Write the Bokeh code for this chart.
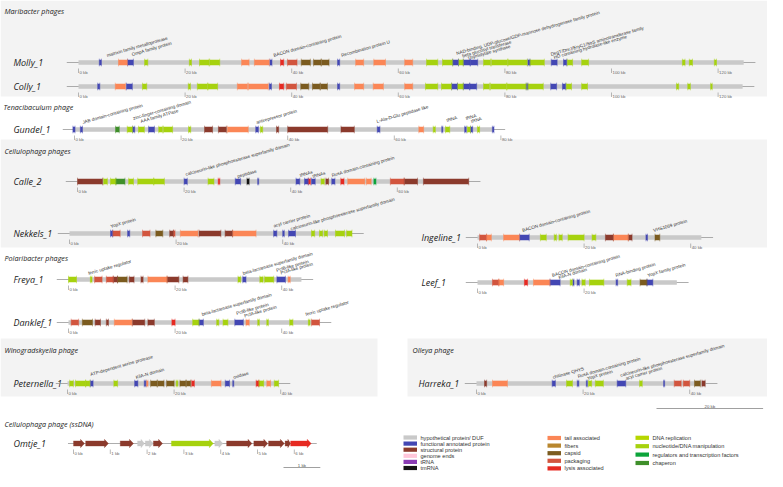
from bokeh.plotting import figure
from bokeh.models import Range1d
from bokeh.core.properties import value
from bokeh.embed import file_html
from bokeh.resources import INLINE

# ------------------------------------------------------------------ data
CAT_KEYS = ["hyp", "fun", "str", "end", "trna", "tmrna",
            "tail", "fib", "cap", "pack", "lys",
            "rep", "nuc", "reg", "chap"]
CAT_NAMES = ["hypothetical protein/ DUF", "functional annotated protein", "structural protein",
             "genome ends", "tRNA", "tmRNA",
             "tail associated", "fibers", "capsid", "packaging", "lysis associated",
             "DNA replication", "nucleotide/DNA manipulation",
             "regulators and transcription factors", "chaperon"]
CAT_COLORS = ["#c9c9c9", "#4347b3", "#8b3a2c", "#ffc6da", "#8a3cb4", "#141414",
              "#fb8656", "#b8862e", "#7b5b1f", "#d2553e", "#e62a22",
              "#b6d600", "#a6d20e", "#0ca43a", "#3f8f2a"]

SECTIONS = ["Maribacter phages", "Tenacibaculum phage", "Cellulophaga phages",
            "Polaribacter phages", "Winogradskyella phage", "Olleya phage",
            "Cellulophaga phage (ssDNA)"]

PHAGES = ["Molly_1", "Colly_1", "Gundel_1", "Calle_2", "Nekkels_1", "Ingeline_1",
          "Freya_1", "Leef_1", "Danklef_1", "Peternella_1", "Harreka_1", "Omtje_1"]

GENOME_KB = {"Molly_1": 124.8, "Colly_1": 124.6, "Gundel_1": 78.6, "Calle_2": 73.4,
             "Nekkels_1": 53.0, "Ingeline_1": 42.0, "Freya_1": 43.7, "Leef_1": 37.4,
             "Danklef_1": 47.1, "Peternella_1": 39.6, "Harreka_1": 43.0, "Omtje_1": 6.46}

TICKS_KB = {"Molly_1": [0, 20, 40, 60, 80, 100, 120], "Colly_1": [0, 20, 40, 60, 80, 100, 120],
            "Gundel_1": [0, 20, 40, 60, 80], "Calle_2": [0, 20, 40, 60],
            "Nekkels_1": [0, 20, 40], "Ingeline_1": [0, 20, 40], "Freya_1": [0, 20, 40],
            "Leef_1": [0, 20], "Danklef_1": [0, 20, 40], "Peternella_1": [0, 20, 40],
            "Harreka_1": [0, 20, 40], "Omtje_1": [0, 1, 2, 3, 4, 5, 6]}

MOLLY_GENES = [(3.9, 4.3, "fun"), (7.5, 9.2, "tail"), (9.2, 10.3, "fun"), (12.4, 13.0, "nuc"),
               (20.8, 21.2, "nuc"), (22.7, 24.5, "nuc"), (24.6, 26.5, "nuc"), (30.6, 32.0, "tail"),
               (33.0, 35.8, "tail"), (35.9, 36.3, "fun"), (37.9, 38.5, "lys"), (39.2, 41.0, "pack"),
               (41.8, 43.5, "cap"), (44.1, 45.5, "cap"), (45.6, 47.0, "cap"), (48.6, 49.0, "fun"),
               (52.0, 53.5, "tail"), (55.4, 57.6, "tail"), (61.2, 62.7, "tail"), (65.3, 67.4, "nuc"),
               (68.3, 70.2, "nuc"), (70.2, 71.3, "fun"), (71.3, 72.2, "nuc"), (72.2, 73.5, "fun"),
               (73.5, 74.9, "fun"), (76.0, 77.3, "nuc"), (77.5, 80.5, "nuc"), (80.6, 84.2, "nuc"),
               (84.3, 84.7, "fun"), (84.7, 87.4, "nuc"), (88.7, 89.8, "fun"), (91.0, 91.6, "fun"),
               (91.7, 92.7, "nuc"), (94.4, 95.7, "nuc"), (113.3, 113.8, "nuc"), (114.6, 115.2, "nuc"),
               (119.3, 119.7, "nuc")]
COLLY_GENES = [(3.6, 4.0, "fun"), (6.9, 8.8, "tail"), (9.0, 10.1, "fun"), (12.0, 12.8, "nuc"),
               (20.6, 21.0, "nuc"), (22.3, 24.2, "nuc"), (24.3, 26.1, "nuc"), (29.8, 31.7, "tail"),
               (31.9, 35.6, "tail"), (35.8, 36.2, "fun"), (37.7, 38.5, "lys"), (39.0, 40.9, "pack"),
               (41.7, 43.2, "cap"), (43.9, 45.3, "cap"), (45.4, 46.7, "cap"), (48.6, 49.0, "fun"),
               (51.8, 53.5, "tail"), (55.3, 57.2, "tail"), (61.2, 62.7, "tail"), (65.1, 67.4, "nuc"),
               (68.1, 70.0, "nuc"), (70.0, 71.1, "fun"), (71.1, 72.2, "nuc"), (72.2, 73.4, "fun"),
               (73.4, 74.7, "fun"), (76.0, 77.1, "nuc"), (77.3, 80.3, "nuc"), (80.4, 84.0, "nuc"),
               (84.0, 84.3, "fun"), (84.3, 87.2, "nuc"), (88.6, 89.7, "fun"), (90.8, 91.4, "fun"),
               (91.5, 92.5, "nuc"), (94.4, 95.5, "nuc"), (112.2, 112.6, "nuc"), (114.3, 114.8, "nuc"),
               (118.6, 118.9, "nuc")]
GUNDEL_GENES = [(-0.3, 0.1, "fun"), (1.1, 1.5, "fun"), (7.7, 8.4, "chap"), (9.9, 10.9, "nuc"),
                (10.9, 11.3, "fun"), (12.0, 13.1, "nuc"), (13.9, 15.0, "fun"), (15.8, 16.5, "nuc"),
                (16.7, 18.4, "nuc"), (21.4, 21.8, "nuc"), (24.4, 25.9, "str"), (27.0, 28.5, "str"),
                (28.7, 32.6, "tail"), (34.0, 34.5, "fun"), (34.9, 35.3, "nuc"), (37.9, 38.3, "str"),
                (40.0, 47.5, "str"), (50.0, 52.5, "str"), (56.8, 57.3, "fun"), (64.6, 65.5, "tail"),
                (67.3, 67.7, "nuc"), (68.9, 69.1, "fun"), (69.6, 70.4, "nuc"), (73.2, 73.5, "fun"),
                (73.7, 74.3, "nuc"), (74.3, 74.7, "fun"), (75.6, 76.0, "nuc"), (78.4, 78.7, "fun")]
CALLE_GENES = [(0.0, 4.7, "str"), (4.9, 5.6, "nuc"), (6.2, 7.2, "nuc"), (7.2, 8.9, "chap"),
               (9.6, 10.5, "nuc"), (11.3, 14.3, "nuc"), (14.3, 16.3, "nuc"), (20.0, 20.6, "fun"),
               (24.5, 25.6, "nuc"), (26.4, 26.7, "lys"), (29.6, 30.6, "fun"), (31.8, 32.2, "tmrna"),
               (33.8, 34.0, "fun"), (41.0, 41.7, "fun"), (42.6, 43.3, "fun"), (43.3, 43.7, "lys"),
               (43.9, 44.6, "fun"), (45.7, 46.3, "nuc"), (46.6, 47.1, "str"), (47.7, 48.3, "fun"),
               (49.4, 50.0, "lys"), (50.7, 53.9, "tail"), (54.2, 55.1, "tail"), (55.6, 56.0, "reg"),
               (58.7, 61.3, "pack"), (61.3, 63.8, "str"), (64.9, 73.4, "str")]
NEKKELS_GENES = [(7.7, 8.1, "fun"), (8.1, 9.5, "pack"), (10.9, 11.3, "fun"), (13.7, 15.1, "pack"),
                 (16.2, 17.5, "cap"), (18.8, 19.5, "str"), (19.5, 19.8, "pack"), (20.8, 24.1, "tail"),
                 (24.3, 28.4, "str"), (29.2, 30.6, "str"), (30.6, 35.0, "tail"), (38.3, 38.9, "fun"),
                 (40.0, 40.3, "fun"), (41.1, 42.4, "fun"), (45.4, 46.0, "nuc"), (46.9, 47.5, "nuc"),
                 (47.8, 48.4, "nuc"), (49.9, 51.6, "nuc"), (52.0, 53.0, "nuc")]
INGELINE_GENES = [(0.4, 1.7, "pack"), (1.7, 2.6, "tail"), (4.9, 7.9, "tail"), (7.9, 9.7, "fun"),
                  (11.8, 12.9, "nuc"), (14.4, 14.8, "nuc"), (15.3, 15.9, "nuc"), (17.0, 20.0, "nuc"),
                  (21.5, 22.2, "nuc"), (24.0, 25.5, "str"), (25.5, 28.3, "tail"), (28.3, 29.0, "str"),
                  (31.6, 31.9, "fun"), (33.3, 34.2, "cap")]
FREYA_GENES = [(0.0, 1.5, "nuc"), (4.1, 4.4, "nuc"), (4.9, 6.3, "pack"), (7.1, 8.4, "pack"),
               (8.4, 9.2, "str"), (9.2, 11.0, "cap"), (11.4, 12.3, "str"), (13.6, 14.0, "str"),
               (14.9, 18.5, "tail"), (18.5, 20.7, "str"), (21.5, 22.4, "str"), (31.8, 32.3, "nuc"),
               (32.7, 33.3, "fun"), (35.9, 36.5, "nuc"), (36.8, 38.5, "nuc"), (39.1, 40.7, "fun"),
               (41.2, 41.6, "tail")]
LEEF_GENES = [(2.8, 4.0, "pack"), (4.0, 4.9, "tail"), (8.8, 9.4, "lys"), (10.5, 13.6, "tail"),
              (13.6, 15.5, "fun"), (17.4, 17.8, "nuc"), (17.9, 18.1, "fun"), (18.7, 19.1, "fun"),
              (19.6, 20.2, "nuc"), (21.0, 23.7, "nuc"), (26.0, 26.3, "fun"), (28.1, 28.8, "nuc"),
              (30.5, 31.8, "cap"), (31.8, 32.9, "fun")]
DANKLEF_GENES = [(0.5, 1.9, "pack"), (2.6, 4.5, "cap"), (5.0, 6.0, "str"), (7.1, 7.5, "str"),
                 (8.6, 11.9, "tail"), (12.0, 14.3, "str"), (14.9, 16.1, "str"), (19.4, 20.0, "lys"),
                 (23.3, 24.5, "nuc"), (24.5, 25.3, "fun"), (27.8, 28.2, "nuc"), (29.0, 29.9, "nuc"),
                 (31.2, 32.8, "fun"), (33.3, 33.9, "tail"), (35.5, 35.8, "nuc"), (37.2, 37.5, "nuc"),
                 (41.5, 42.1, "nuc"), (45.0, 45.3, "nuc"), (45.6, 47.1, "pack")]
PETERNELLA_GENES = [(0.4, 1.1, "nuc"), (1.5, 3.4, "nuc"), (3.4, 4.2, "nuc"), (4.3, 4.8, "fun"),
                    (8.7, 9.4, "nuc"), (12.6, 13.2, "fun"), (14.4, 14.7, "fun"), (14.8, 15.1, "tail"),
                    (15.6, 16.8, "cap"), (16.9, 18.1, "cap"), (18.6, 20.0, "cap"), (20.4, 20.7, "nuc"),
                    (21.1, 22.2, "cap"), (22.3, 23.1, "cap"), (23.3, 23.8, "lys"), (27.0, 28.8, "tail"),
                    (29.6, 30.4, "fun"), (31.0, 31.2, "fun"), (35.4, 35.9, "lys"), (35.9, 36.8, "nuc"),
                    (37.4, 38.1, "tail"), (38.8, 39.6, "nuc")]
HARREKA_GENES = [(1.5, 1.9, "str"), (3.0, 5.8, "tail"), (14.2, 14.8, "fun"), (16.9, 18.0, "nuc"),
                 (18.9, 19.2, "fun"), (20.6, 20.8, "fun"), (21.0, 21.6, "nuc"), (22.3, 23.8, "nuc"),
                 (26.4, 28.0, "fun"), (30.6, 31.1, "nuc"), (35.1, 35.3, "fun"), (37.1, 38.4, "pack"),
                 (38.8, 40.0, "pack"), (40.9, 42.0, "cap"), (42.3, 42.9, "str")]
OMTJE_GENES = [(0.0, 0.3, "str"), (0.33, 0.95, "str"), (1.27, 1.63, "str"), (1.74, 1.93, "hyp"),
               (1.95, 2.17, "hyp"), (2.17, 2.42, "str"), (2.66, 3.8, "nuc"), (3.84, 4.06, "hyp"),
               (4.16, 4.85, "str"), (4.9, 5.28, "str"), (5.3, 5.73, "str"), (5.75, 5.9, "str"),
               (5.9, 6.46, "lys")]

GENES = {"Molly_1": MOLLY_GENES, "Colly_1": COLLY_GENES, "Gundel_1": GUNDEL_GENES,
         "Calle_2": CALLE_GENES, "Nekkels_1": NEKKELS_GENES, "Ingeline_1": INGELINE_GENES,
         "Freya_1": FREYA_GENES, "Leef_1": LEEF_GENES, "Danklef_1": DANKLEF_GENES,
         "Peternella_1": PETERNELLA_GENES, "Harreka_1": HARREKA_GENES, "Omtje_1": OMTJE_GENES}

# annotation labels: (kb where label starts, text)
LABELS = {
    "Molly_1": [(5.3, "matrixin family metalloprotease"), (10.0, "OmpA family protein"),
                (36.6, "BACON domain-containing protein"), (49.3, "Recombination protein U"),
                (70.9, "NAD-binding, UDP-glucose/GDP-mannose dehydrogenase family protein"),
                (72.0, "beta glucosyl transferase"), (73.0, "Thymidylate synthase"),
                (88.6, "DegT/DnrJ/EryC1/StrS aminotransferase family"),
                (89.2, "HD containing hydrolase-like enzyme")],
    "Gundel_1": [(1.5, "JAB domain-containing protein"), (11.0, "zinc-finger-containing domain"),
                 (12.4, "AAA family ATPase"), (34.1, "antirepressor protein"),
                 (56.7, "L-Ala-D-Glu peptidase like"), (69.8, "tRNA"), (73.4, "tRNA"), (74.4, "tRNA")],
    "Calle_2": [(20.3, "calcineurin-like phosphoesterase superfamily domain"), (30.0, "peptidase"),
                (41.7, "tRNAs"), (44.1, "tRNAs"), (47.7, "RusA domain-containing protein")],
    "Nekkels_1": [(7.7, "YopX protein"), (38.3, "acyl carrier protein"),
                  (41.5, "calcineurin-like phosphoesterase superfamily domain")],
    "Ingeline_1": [(8.4, "BACON domain-containing protein"), (33.0, "VHS1069 protein")],
    "Freya_1": [(3.7, "ferric uptake regulator"), (32.7, "beta-lactamase superfamily domain"),
                (39.0, "PcfB-like protein"), (39.8, "PcfA-like protein")],
    "Leef_1": [(14.0, "BACON domain-containing protein"), (15.2, "KilA-N domain"),
               (25.9, "RNA-binding protein"), (31.9, "YopX family protein")],
    "Danklef_1": [(25.0, "beta-lactamase superfamily domain"), (31.5, "PcfB-like protein"),
                  (33.0, "PcfA-like protein"), (44.5, "ferric uptake regulator")],
    "Peternella_1": [(4.3, "ATP-dependent serine protease"), (12.8, "KilA-N domain"), (31.1, "oxidase")],
    "Harreka_1": [(14.3, "chitinase QHYS"), (19.0, "RusA domain-containing protein"),
                  (20.8, "YopX protein"), (27.0, "calcineurin-like phosphoesterase superfamily domain"),
                  (28.0, "acyl carrier protein")],
}

SCALEBAR_KB = {"main": 20, "ssDNA": 1}

# ------------------------------------------------------------------ layout (reference-pixel space)
PX_KB = 5.33            # px per kb for dsDNA tracks
PX_KB_SS = 36.8         # px per kb for the ssDNA track
TRACK = {  # origin x of 0 kb, track centre y
    "Molly_1": (78, 62), "Colly_1": (78, 86), "Gundel_1": (74, 129), "Calle_2": (77, 181),
    "Nekkels_1": (69, 233), "Ingeline_1": (477, 237), "Freya_1": (68, 279), "Leef_1": (477, 282),
    "Danklef_1": (68, 322), "Peternella_1": (67, 383), "Harreka_1": (476, 383), "Omtje_1": (73, 443)}
NAME_X = {"Ingeline_1": 421, "Leef_1": 421, "Harreka_1": 418}
LABEL_DY = {  # baseline offsets above the track for each label (same order as LABELS)
    "Molly_1": [7, 8, 7, 7, 9, 6.5, 4, 8, 5],
    "Gundel_1": [7, 11, 8, 7, 8, 9, 11, 8],
    "Calle_2": [7, 5, 6, 5, 6],
    "Nekkels_1": [7, 7.5, 4.5],
    "Ingeline_1": [7, 7],
    "Freya_1": [6, 6, 9, 6.5],
    "Leef_1": [7, 5, 7, 7],
    "Danklef_1": [8, 9, 6.5, 8],
    "Peternella_1": [9, 6, 6],
    "Harreka_1": [6, 7, 5, 8, 5],
}
PANELS = [(0, 778, 0, 96), (0, 778, 139, 247), (0, 377, 338, 396), (407, 778, 338, 396)]
SECTION_POS = [(4, 10), (3, 106), (4, 150), (4, 257), (4, 349), (412, 349), (4, 423)]
LABEL_ANGLE = 16

W, H = 767, 471
p = figure(width=W, height=H, x_range=Range1d(0, W), y_range=Range1d(H, 0),
           output_backend="svg", toolbar_location=None, min_border=0)
p.axis.visible = False
p.grid.visible = False
p.outline_line_color = None
p.background_fill_color = "white"
p.border_fill_color = "white"

COLOR = dict(zip(CAT_KEYS, CAT_COLORS))
SANS = value("Liberation Sans")
ITAL = value("Open Sans")

# background panels
p.quad(left=[b[0] for b in PANELS], right=[b[1] for b in PANELS],
       top=[b[2] for b in PANELS], bottom=[b[3] for b in PANELS],
       fill_color="#f3f3f3", line_color=None)

# section titles
p.text(x=[s[0] for s in SECTION_POS], y=[s[1] for s in SECTION_POS], text=SECTIONS,
       text_font=ITAL, text_font_style="italic", text_font_size="7.2px", text_color="#222",
       text_baseline="middle")

for name in PHAGES:
    x0, y = TRACK[name]
    ss = name == "Omtje_1"
    s = PX_KB_SS if ss else PX_KB
    L = GENOME_KB[name]
    pad = 0.15 if ss else 2.2
    # name
    p.text(x=[NAME_X.get(name, 13)], y=[y], text=[name], text_font=ITAL, text_font_style="italic",
           text_font_size="9px", text_color="#222", text_baseline="middle")
    # baseline
    p.segment(x0=[x0 - pad * s], x1=[x0 + (L + pad) * s], y0=[y], y1=[y],
              line_color="#8a8a8a", line_width=0.7)
    # ticks
    tk = TICKS_KB[name]
    p.segment(x0=[x0 + t * s for t in tk], x1=[x0 + t * s for t in tk],
              y0=[y + 6] * len(tk), y1=[y + 10.5] * len(tk), line_color="#8a8a8a", line_width=0.6)
    p.text(x=[x0 + t * s + 1 for t in tk], y=[y + 10.4] * len(tk), text=[f"{t} kb" for t in tk],
           text_font=SANS, text_font_size="4.3px", text_color="#666", text_baseline="alphabetic")
    genes = GENES[name]
    if ss:
        xs, ys, cs = [], [], []
        for (a, b, c) in genes:
            xa, xb = x0 + a * s, x0 + b * s
            h = min(4.0, (xb - xa) * 0.5)
            xs.append([xa, xb - h, xb - h, xb, xb - h, xb - h, xa])
            ys.append([y - 2.6, y - 2.6, y - 4.2, y, y + 4.2, y + 2.6, y + 2.6])
            cs.append(COLOR[c])
        p.patches(xs=xs, ys=ys, fill_color=cs, line_color=cs, line_width=0.3)
    else:
        # hypothetical genes fill the genome
        p.quad(left=[x0], right=[x0 + L * s], top=[y - 2.2], bottom=[y + 2.2],
               fill_color=COLOR["hyp"], line_color=None)
        lefts = [x0 + a * s for a, b, c in genes]
        rights = [x0 + b * s for a, b, c in genes]
        cols = [COLOR[c] for a, b, c in genes]
        p.quad(left=lefts, right=rights, top=[y - 2.8] * len(genes), bottom=[y + 2.8] * len(genes),
               fill_color=cols, line_color=None)
        p.segment(x0=lefts + rights, x1=lefts + rights, y0=[y - 3.8] * (2 * len(genes)),
                  y1=[y + 3.8] * (2 * len(genes)), line_color=cols + cols, line_width=0.5)
    # annotation labels
    if name in LABELS:
        lab = LABELS[name]
        dys = LABEL_DY[name]
        p.text(x=[x0 + k * s for k, t in lab], y=[y - d for d in dys], text=[t for k, t in lab],
               angle=LABEL_ANGLE, angle_units="deg", text_font=SANS, text_font_size="4.6px",
               text_color="#333", text_baseline="alphabetic")

# scale bars
sb = [(656, 408, SCALEBAR_KB["main"] * PX_KB, f"{SCALEBAR_KB['main']} kb"),
      (283, 467, SCALEBAR_KB["ssDNA"] * PX_KB_SS, f"{SCALEBAR_KB['ssDNA']} kb")]
p.segment(x0=[b[0] for b in sb], x1=[b[0] + b[2] for b in sb], y0=[b[1] for b in sb],
          y1=[b[1] for b in sb], line_color="#777", line_width=0.7)
p.text(x=[b[0] + b[2] / 2 for b in sb], y=[b[1] - 2.5 for b in sb], text=[b[3] for b in sb],
       text_font=SANS, text_font_size="4.3px", text_color="#555", text_align="center",
       text_baseline="alphabetic")

# legend
cols_x = [403, 547, 635]
rows = [(0, 437.0, 6.1, [0, 1, 2, 3, 4, 5]), (1, 437.5, 7.6, [6, 7, 8, 9, 10]),
        (2, 437.3, 8.4, [11, 12, 13, 14])]
lx, ly, lc, lt = [], [], [], []
for ci, y0, dy, idxs in rows:
    for r, i in enumerate(idxs):
        lx.append(cols_x[ci]); ly.append(y0 + r * dy); lc.append(CAT_COLORS[i]); lt.append(CAT_NAMES[i])
p.quad(left=lx, right=[v + 13.5 for v in lx], top=[v - 2.1 for v in ly], bottom=[v + 2.1 for v in ly],
       fill_color=lc, line_color=None)
p.text(x=[v + 17 for v in lx], y=ly, text=lt, text_font=SANS, text_font_size="5.6px",
       text_color="#333", text_baseline="middle")

open("out.html", "w").write(file_html(p, INLINE))
